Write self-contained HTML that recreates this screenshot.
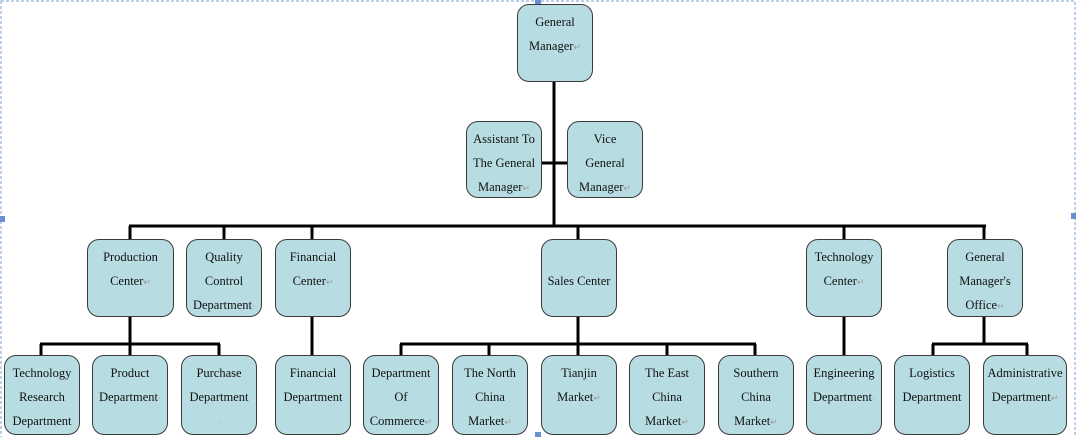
<!DOCTYPE html>
<html><head><meta charset="utf-8"><style>
body{margin:0;width:1076px;height:437px;background:#fff;position:relative;overflow:hidden;font-family:"Liberation Serif",serif;}
.b{position:absolute;box-sizing:border-box;background:#b7dde3;border:1.5px solid #3a3a3a;border-radius:12px;text-align:center;font-size:12.5px;line-height:24px;color:#111;padding-top:5px;}
.r{color:#999;font-size:9px;}
svg{position:absolute;left:0;top:0;}
</style></head><body>
<svg width="1076" height="437">
<rect x="1" y="1" width="1074" height="440" fill="none" stroke="#7a9cd0" stroke-dasharray="3,2" stroke-width="1"/>
<g stroke="#000" stroke-width="3" fill="none">
<line x1="554" y1="82" x2="554" y2="226"/>
<line x1="541" y1="163" x2="567" y2="163"/>
<line x1="129" y1="226" x2="986" y2="226"/>
<line x1="130" y1="226" x2="130" y2="239"/>
<line x1="224" y1="226" x2="224" y2="239"/>
<line x1="312" y1="226" x2="312" y2="239"/>
<line x1="578" y1="226" x2="578" y2="239"/>
<line x1="844" y1="226" x2="844" y2="239"/>
<line x1="984" y1="226" x2="984" y2="239"/>
<line x1="130" y1="317" x2="130" y2="344"/>
<line x1="40" y1="344" x2="220" y2="344"/>
<line x1="41" y1="344" x2="41" y2="355"/>
<line x1="130" y1="344" x2="130" y2="355"/>
<line x1="219" y1="344" x2="219" y2="355"/>
<line x1="312" y1="317" x2="312" y2="355"/>
<line x1="578" y1="317" x2="578" y2="344"/>
<line x1="400" y1="344" x2="756" y2="344"/>
<line x1="401" y1="344" x2="401" y2="355"/>
<line x1="489" y1="344" x2="489" y2="355"/>
<line x1="578" y1="344" x2="578" y2="355"/>
<line x1="667" y1="344" x2="667" y2="355"/>
<line x1="755" y1="344" x2="755" y2="355"/>
<line x1="844" y1="317" x2="844" y2="355"/>
<line x1="984" y1="317" x2="984" y2="344"/>
<line x1="932" y1="344" x2="1028" y2="344"/>
<line x1="933" y1="344" x2="933" y2="355"/>
<line x1="1027" y1="344" x2="1027" y2="355"/>
</g>
<rect x="535" y="0" width="6" height="6" fill="#6b8fd0"/>
<rect x="0" y="216" width="5" height="6" fill="#6b8fd0"/>
<rect x="1071" y="213" width="5" height="6" fill="#6b8fd0"/>
<rect x="535" y="432" width="6" height="5" fill="#6b8fd0"/>
</svg>
<div class="b" style="left:517px;top:4px;width:76px;height:78px">General<br>Manager<span class="r">↵</span></div>
<div class="b" style="left:466px;top:121px;width:76px;height:77px">Assistant To<br>The General<br>Manager<span class="r">↵</span></div>
<div class="b" style="left:567px;top:121px;width:76px;height:77px">Vice<br>General<br>Manager<span class="r">↵</span></div>

<div class="b" style="left:87px;top:239px;width:87px;height:78px">Production<br>Center<span class="r">↵</span></div>
<div class="b" style="left:186px;top:239px;width:76px;height:78px">Quality<br>Control<br>Department<span class="r">·</span></div>
<div class="b" style="left:275px;top:239px;width:76px;height:78px">Financial<br>Center<span class="r">↵</span></div>
<div class="b" style="left:541px;top:239px;width:76px;height:78px;padding-top:29px">Sales Center</div>
<div class="b" style="left:806px;top:239px;width:76px;height:78px">Technology<br>Center<span class="r">↵</span></div>
<div class="b" style="left:947px;top:239px;width:76px;height:78px">General<br>Manager's<br>Office<span class="r">↵</span></div>

<div class="b" style="left:4px;top:355px;width:76px;height:80px">Technology<br>Research<br>Department</div>
<div class="b" style="left:92px;top:355px;width:76px;height:80px">Product<br>Department<span class="r">·</span></div>
<div class="b" style="left:181px;top:355px;width:76px;height:80px">Purchase<br>Department<br><span class="r">·</span></div>
<div class="b" style="left:275px;top:355px;width:76px;height:80px">Financial<br>Department</div>
<div class="b" style="left:363px;top:355px;width:76px;height:80px">Department<br>Of<br>Commerce<span class="r">↵</span></div>
<div class="b" style="left:452px;top:355px;width:76px;height:80px">The North<br>China<br>Market<span class="r">↵</span></div>
<div class="b" style="left:541px;top:355px;width:76px;height:80px">Tianjin<br>Market<span class="r">↵</span></div>
<div class="b" style="left:629px;top:355px;width:76px;height:80px">The East<br>China<br>Market<span class="r">↵</span></div>
<div class="b" style="left:718px;top:355px;width:76px;height:80px">Southern<br>China<br>Market<span class="r">↵</span></div>
<div class="b" style="left:806px;top:355px;width:76px;height:80px">Engineering<br>Department<span class="r">·</span></div>
<div class="b" style="left:894px;top:355px;width:76px;height:80px">Logistics<br>Department</div>
<div class="b" style="left:983px;top:355px;width:84px;height:80px">Administrative<br>Department<span class="r">↵</span></div>
</body></html>
